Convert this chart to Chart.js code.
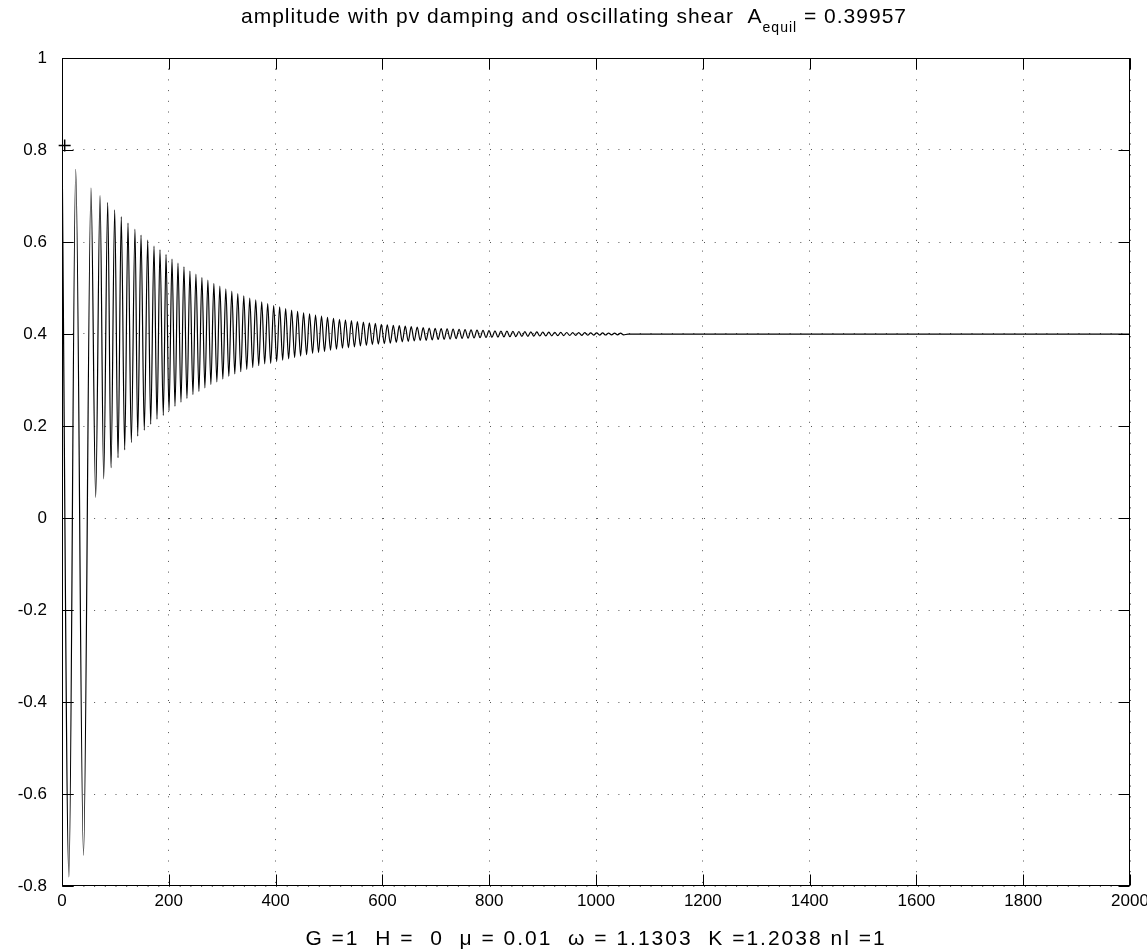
<!DOCTYPE html>
<html>
<head>
<meta charset="utf-8">
<title>amplitude with pv damping</title>
<script src="https://cdn.jsdelivr.net/npm/chart.js@4.4.1/dist/chart.umd.min.js"></script>
<style>
  html, body { margin: 0; padding: 0; background: #fff; }
  #wrap { width: 1147px; height: 952px; }
</style>
</head>
<body>
<div id="wrap"><canvas id="myChart" width="1147" height="952"></canvas></div>
<script>
// crests of the trace (time, amplitude)
const peakT = [0, 25.7, 54.3, 71.2, 85.6, 98.7, 111, 123.6, 136.7, 148, 160.5, 172.3, 183.5,
  194.8, 206, 217.2, 228.4, 239.6, 250.8, 262, 273.2, 284.4, 295.6, 306.8, 318, 329.2, 340.4,
  351.6, 362.8, 374, 385.2, 396.4, 407.6, 418.8, 430, 441.2, 452.4, 463.6, 474.8, 486, 497.2,
  508.4, 519.6, 530.8, 542, 553.2, 564.4, 575.6, 586.8, 598, 609.2, 620.4, 631.6, 642.8, 654,
  665.2, 676.4, 687.6, 698.8, 710, 721.2, 732.4, 743.6, 754.8, 766, 777.2, 788.4, 799.6, 810.8,
  822, 833.2, 844.4, 855.6, 866.8, 878, 889.2, 900.4, 911.6, 922.8, 934, 945.2, 956.4, 967.6,
  978.8, 990, 1001.2, 1012.4, 1023.6, 1034.8, 1046];
const peakA = [0.825, 0.758, 0.717, 0.701, 0.686, 0.670, 0.655, 0.641, 0.628, 0.615, 0.604, 0.591, 0.583,
  0.573, 0.563, 0.554, 0.546, 0.537, 0.530, 0.523, 0.517, 0.510, 0.504, 0.498, 0.493, 0.488, 0.483,
  0.478, 0.474, 0.470, 0.466, 0.462, 0.459, 0.455, 0.452, 0.449, 0.446, 0.444, 0.441, 0.439, 0.436,
  0.434, 0.432, 0.431, 0.429, 0.427, 0.426, 0.424, 0.423, 0.421, 0.420, 0.419, 0.418, 0.417, 0.416,
  0.415, 0.414, 0.413, 0.4125, 0.412, 0.411, 0.4105, 0.410, 0.4093, 0.4088, 0.4083, 0.4078, 0.4073, 0.4069,
  0.4065, 0.4061, 0.4058, 0.4054, 0.4051, 0.4048, 0.4045, 0.4043, 0.404, 0.4038, 0.4036, 0.4033, 0.4031, 0.403,
  0.4028, 0.4026, 0.4025, 0.4023, 0.4022, 0.402, 0.4019];

// troughs of the trace
const troughT = [13, 40.3, 63.1, 78.1, 91.8, 104.9, 117.4, 129.8, 141.8, 154.1, 166.1, 177.9, 189.7,
  200.4, 211.6, 222.8, 234, 245.2, 256.4, 267.6, 278.8, 290, 301.2, 312.4, 323.6, 334.8, 346,
  357.2, 368.4, 379.6, 390.8, 402, 413.2, 424.4, 435.6, 446.8, 458, 469.2, 480.4, 491.6, 502.8,
  514, 525.2, 536.4, 547.6, 558.8, 570, 581.2, 592.4, 603.6, 614.8, 626, 637.2, 648.4, 659.6,
  670.8, 682, 693.2, 704.4, 715.6, 726.8, 738, 749.2, 760.4, 771.6, 782.8, 794, 805.2, 816.4,
  827.6, 838.8, 850, 861.2, 872.4, 883.6, 894.8, 906, 917.2, 928.4, 939.6, 950.8, 962, 973.2,
  984.4, 995.6, 1006.8, 1018, 1029.2, 1040.4, 1051.6];
const troughA = [-0.78, -0.733, 0.045, 0.085, 0.109, 0.131, 0.148, 0.164, 0.178, 0.191, 0.204, 0.215, 0.223,
  0.233, 0.243, 0.252, 0.260, 0.268, 0.275, 0.283, 0.290, 0.296, 0.302, 0.308, 0.313, 0.318, 0.323,
  0.327, 0.331, 0.335, 0.336, 0.340, 0.343, 0.346, 0.349, 0.352, 0.355, 0.358, 0.360, 0.362, 0.365,
  0.367, 0.369, 0.370, 0.372, 0.374, 0.375, 0.377, 0.378, 0.379, 0.380, 0.382, 0.383, 0.384, 0.385,
  0.386, 0.3863, 0.387, 0.388, 0.3885, 0.389, 0.390, 0.3904, 0.391, 0.3915, 0.392, 0.3924, 0.3929, 0.3933,
  0.3937, 0.394, 0.3944, 0.3947, 0.395, 0.3953, 0.3956, 0.3959, 0.3961, 0.3963, 0.3966, 0.3968, 0.397, 0.3971,
  0.3973, 0.3975, 0.3976, 0.3978, 0.3979, 0.398, 0.3982];

// settled part
const tailT = [1060, 2000];
const tailA = [0.3996, 0.3996];

// the "+" start marker
const markT = [5];
const markA = [0.81];

const xTicks = [0, 200, 400, 600, 800, 1000, 1200, 1400, 1600, 1800, 2000];
const yTicks = [-0.8, -0.6, -0.4, -0.2, 0, 0.2, 0.4, 0.6, 0.8, 1];

const titleMain = 'amplitude with pv damping and oscillating shear  A';
const titleSub = 'equil';
const titleEnd = ' = 0.39957';
const xLabel = 'G =1  H =  0  \u03bc = 0.01  \u03c9 = 1.1303  K =1.2038 nl =1';

const fontFamily = '"Liberation Sans", Arial, Helvetica, sans-serif';

function toPoints(ts, as) {
    return ts.map((t, i) => ({x: t, y: as[i]}));
}

const trace = toPoints(peakT, peakA)
    .concat(toPoints(troughT, troughA))
    .concat(toPoints(tailT, tailA))
    .sort((a, b) => a.x - b.x);

// box, inward ticks, the title with its subscript and the x label
const matlabFrame = {
    id: 'matlabFrame',
    afterDraw(chart) {
        const {ctx, chartArea: a, scales: {x, y}} = chart;
        const l = Math.round(a.left) + 0.5, r = Math.round(a.right) - 0.5;
        const t = Math.round(a.top) + 0.5, b = Math.round(a.bottom) - 0.5;
        const tl = 11;
        ctx.save();
        ctx.strokeStyle = '#000';
        ctx.lineWidth = 1;
        ctx.strokeRect(l, t, r - l, b - t);
        ctx.beginPath();
        xTicks.forEach(v => {
            const px = Math.round(x.getPixelForValue(v)) + 0.5;
            ctx.moveTo(px, b); ctx.lineTo(px, b - tl);
            ctx.moveTo(px, t); ctx.lineTo(px, t + tl);
        });
        yTicks.forEach(v => {
            const py = Math.round(y.getPixelForValue(v)) + 0.5;
            ctx.moveTo(l, py); ctx.lineTo(l + tl, py);
            ctx.moveTo(r, py); ctx.lineTo(r - tl, py);
        });
        ctx.stroke();

        // title
        const mainFont = '21px ' + fontFamily;
        const subFont = '14px ' + fontFamily;
        ctx.fillStyle = '#000';
        ctx.textBaseline = 'alphabetic';
        ctx.textAlign = 'left';
        ctx.letterSpacing = '1px';
        ctx.font = mainFont;
        const w1 = ctx.measureText(titleMain).width;
        const w3 = ctx.measureText(titleEnd).width;
        ctx.font = subFont;
        const w2 = ctx.measureText(titleSub).width;
        let cx = 574 - (w1 + w2 + w3) / 2;
        ctx.font = mainFont;
        ctx.fillText(titleMain, cx, 23);
        cx += w1;
        ctx.font = subFont;
        ctx.fillText(titleSub, cx, 32);
        cx += w2;
        ctx.font = mainFont;
        ctx.fillText(titleEnd, cx, 23);

        // x label
        ctx.letterSpacing = '2px';
        ctx.textAlign = 'center';
        ctx.font = mainFont;
        ctx.fillText(xLabel, (a.left + a.right) / 2, 945);
        ctx.restore();
    }
};

const ctx = document.getElementById('myChart').getContext('2d');

new Chart(ctx, {
    type: 'line',
    data: {
        datasets: [{
            label: 'amplitude',
            data: trace,
            borderColor: '#000',
            borderWidth: 1.2,
            pointRadius: 0,
            fill: false,
            cubicInterpolationMode: 'monotone'
        }, {
            type: 'scatter',
            label: 'start',
            data: toPoints(markT, markA),
            showLine: false,
            pointStyle: 'cross',
            pointRadius: 6,
            borderColor: '#000',
            backgroundColor: '#000',
            borderWidth: 1.5,
            clip: false
        }]
    },
    plugins: [matlabFrame],
    options: {
        responsive: false,
        animation: false,
        devicePixelRatio: 1,
        layout: {
            padding: {top: 58, right: 17, left: 0, bottom: 0}
        },
        plugins: {
            legend: {display: false},
            tooltip: {enabled: false}
        },
        scales: {
            x: {
                type: 'linear',
                min: 0,
                max: 2000,
                afterBuildTicks: scale => { scale.ticks = xTicks.map(v => ({value: v})); },
                afterFit: scale => {
                    scale.height = 66;
                    scale.paddingLeft = 0;
                    scale.paddingRight = 0;
                },
                ticks: {
                    callback: v => String(v),
                    color: '#000',
                    font: {family: fontFamily, size: 17},
                    padding: 5,
                    maxRotation: 0,
                    autoSkip: false
                },
                grid: {color: '#555', lineWidth: 1, drawTicks: false},
                border: {display: false, dash: [1, 9.7]}
            },
            y: {
                type: 'linear',
                min: -0.8,
                max: 1,
                afterBuildTicks: scale => { scale.ticks = yTicks.map(v => ({value: v})); },
                afterFit: scale => {
                    scale.width = 62;
                    scale.paddingTop = 0;
                    scale.paddingBottom = 0;
                },
                ticks: {
                    callback: v => String(Math.round(v * 10) / 10),
                    color: '#000',
                    font: {family: fontFamily, size: 17},
                    padding: 15
                },
                grid: {color: '#555', lineWidth: 1, drawTicks: false},
                border: {display: false, dash: [1, 9.7]}
            }
        }
    }
});
</script>
</body>
</html>
